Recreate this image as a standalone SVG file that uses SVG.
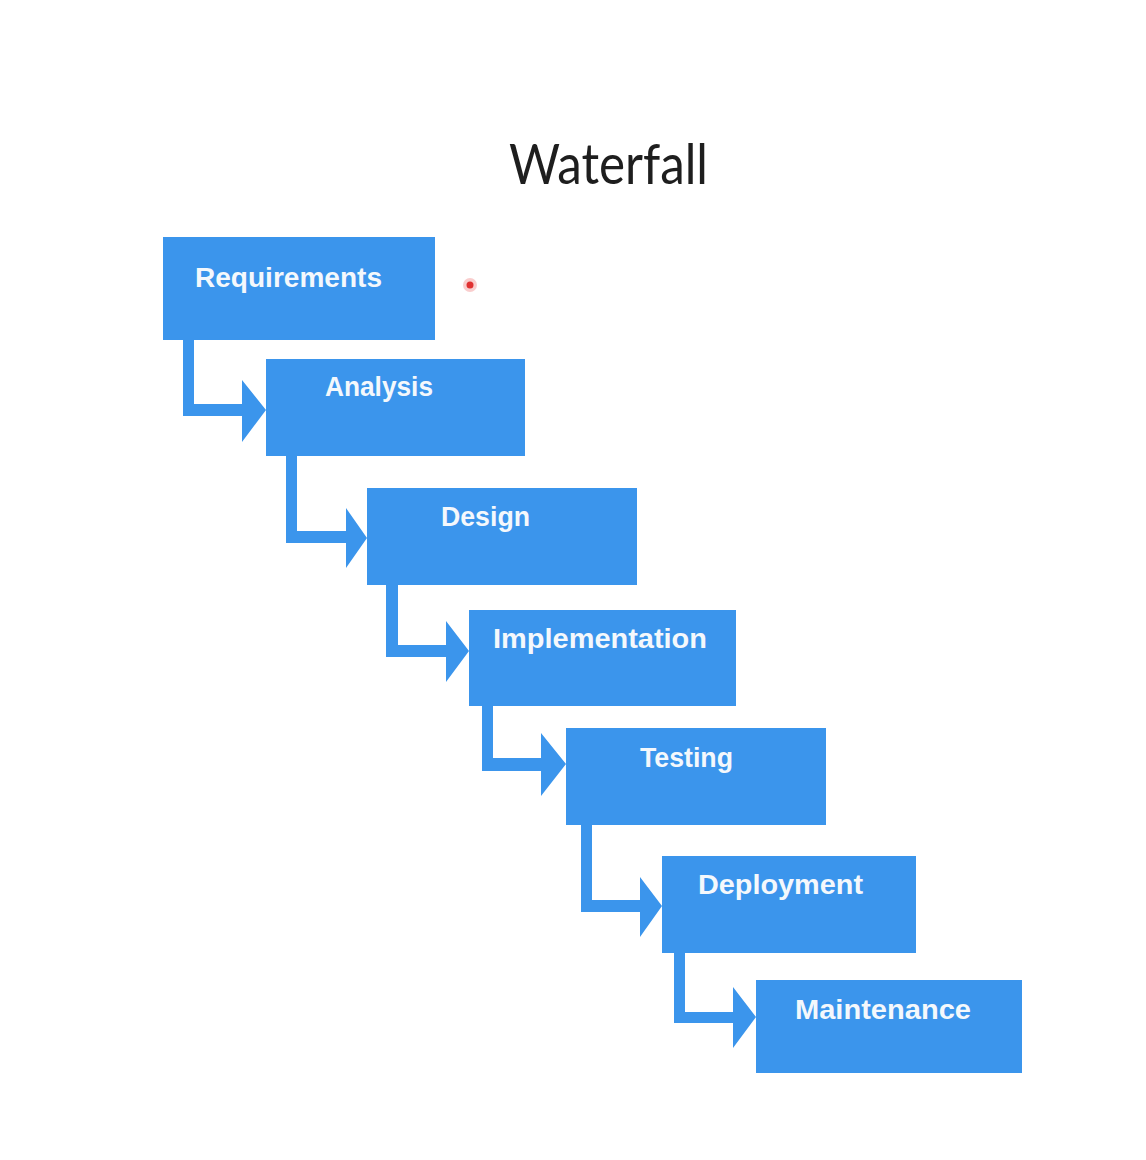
<svg xmlns="http://www.w3.org/2000/svg" width="1146" height="1160" viewBox="0 0 1146 1160">
<style>
.box{fill:#3B95EC}
.conn{fill:#3B95EC}
.lbl{font-family:"Liberation Sans",Arial,sans-serif;font-weight:bold;font-size:27px;fill:#F4F8FC}
.title{font-family:Lato,"Open Sans",sans-serif;font-weight:400;font-size:56px;fill:#1E1E1E}
</style>
<rect width="1146" height="1160" fill="#FFFFFF"/>
<text class="title" x="509" y="184" textLength="199" lengthAdjust="spacingAndGlyphs">Waterfall</text>
<g id="connectors">
<path class="conn" d="M183,340 H194 V404 H242 V380 L266,410 L242,442 V416 H183 Z"/>
<path class="conn" d="M286,456 H297 V531 H346 V508 L367,538 L346,568 V543 H286 Z"/>
<path class="conn" d="M386,585 H398 V645 H446 V621 L469,651 L446,682 V657 H386 Z"/>
<path class="conn" d="M482,706 H493 V758 H541 V733 L566,764 L541,796 V771 H482 Z"/>
<path class="conn" d="M581,825 H592 V900 H640 V877 L662,906 L640,937 V912 H581 Z"/>
<path class="conn" d="M674,953 H685 V1012 H733 V987 L756,1017 L733,1048 V1023 H674 Z"/>
</g>
<g id="requirements"><rect class="box" x="163" y="237" width="272" height="103"/><text class="lbl" x="195" y="287" textLength="187" lengthAdjust="spacingAndGlyphs">Requirements</text></g>
<g id="analysis"><rect class="box" x="266" y="359" width="259" height="97"/><text class="lbl" x="325" y="396" textLength="108" lengthAdjust="spacingAndGlyphs">Analysis</text></g>
<g id="design"><rect class="box" x="367" y="488" width="270" height="97"/><text class="lbl" x="441" y="526" textLength="89" lengthAdjust="spacingAndGlyphs">Design</text></g>
<g id="implementation"><rect class="box" x="469" y="610" width="267" height="96"/><text class="lbl" x="493" y="648" textLength="214" lengthAdjust="spacingAndGlyphs">Implementation</text></g>
<g id="testing"><rect class="box" x="566" y="728" width="260" height="97"/><text class="lbl" x="640" y="767" textLength="93" lengthAdjust="spacingAndGlyphs">Testing</text></g>
<g id="deployment"><rect class="box" x="662" y="856" width="254" height="97"/><text class="lbl" x="698" y="894" textLength="165" lengthAdjust="spacingAndGlyphs">Deployment</text></g>
<g id="maintenance"><rect class="box" x="756" y="980" width="266" height="93"/><text class="lbl" x="795" y="1019" textLength="176" lengthAdjust="spacingAndGlyphs">Maintenance</text></g>
<circle cx="470" cy="285" r="7" fill="#F6B8B8" opacity="0.7"/>
<circle cx="470" cy="285" r="3.5" fill="#E03030"/>
</svg>
